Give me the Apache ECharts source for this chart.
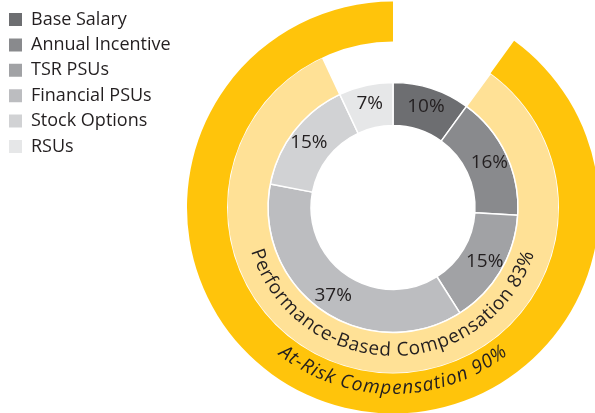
<!DOCTYPE html>
<html><head><meta charset="utf-8">
<script src="https://cdn.jsdelivr.net/npm/echarts@6/dist/echarts.min.js"></script>
<style>html,body{margin:0;padding:0;background:#fff}#c{width:595px;height:413px}</style>
</head><body><div id="c"></div>
<script>
// ---- data ----
const categories = ['Base Salary','Annual Incentive','TSR PSUs','Financial PSUs','Stock Options','RSUs'];
const shares = [10,16,15,37,15,7];
const performanceLabel = 'Performance-Based Compensation';
const performanceShare = 83;
const atRiskLabel = 'At-Risk Compensation';
const atRiskShare = 90;

// ---- style ----
const grays = ['#6d6e71','#898a8d','#a1a2a5','#bcbdc0','#d1d2d4','#e6e7e8'];
const gold = '#ffc40b';
const lightGold = '#ffe196';
const FONT = '"Open Sans", "Noto Sans", sans-serif';
const cx = 393, cy = 207.5;

const chart = echarts.init(document.getElementById('c'), null, {renderer:'canvas'});

const perfBefore = shares[0];
const perfAfter = 100 - perfBefore - performanceShare;
const riskBefore = 100 - atRiskShare;
const none = {color:'transparent', borderWidth:0};

function arcText(str, r, centerDeg, fontSize, color, spacing, style){
  const font = (style ? style + ' ' : '') + fontSize + 'px ' + FONT;
  const ctx = document.createElement('canvas').getContext('2d');
  ctx.font = font;
  const ws = [...str].map(ch => ctx.measureText(ch).width);
  const total = ws.reduce((a,b)=>a+b,0) + spacing*(ws.length-1);
  let start = centerDeg*Math.PI/180 + total/(2*r);
  let cum = 0;
  const els = [];
  [...str].forEach((ch,i)=>{
    const th = start - (cum + ws[i]/2)/r;
    cum += ws[i] + spacing;
    const phi = th - Math.PI/2;
    els.push({type:'text', x: cx + r*Math.cos(th), y: cy + r*Math.sin(th), rotation: -phi,
      silent:true, z:100, zlevel:0,
      style:{text:ch, font: font, fill:color, align:'center', verticalAlign:'middle',
             textAlign:'center', textVerticalAlign:'middle'}});
  });
  return els;
}

const graphics = [].concat(
  arcText(performanceLabel + ' ' + performanceShare + '%', 143, 90.5, 19, '#231f20', 0.3),
  arcText(atRiskLabel + ' ' + atRiskShare + '%', 181, 90, 19, '#231f20', 0.75, 'italic')
);

chart.setOption({
  animation:false,
  legend:{
    orient:'vertical', left:7, top:10.5, padding:0, itemWidth:15, itemHeight:15, itemGap:7.4,
    icon:'rect', data:categories,
    textStyle:{fontFamily:FONT, fontSize:18, color:'#231f20', padding:[0,0,0,3]}
  },
  series:[
    {
      type:'pie', name:'comp', center:[cx,cy], radius:[82,125], startAngle:90, clockwise:true,
      silent:true,
      itemStyle:{borderColor:'#fff', borderWidth:1.5},
      label:{position:'inside', formatter:'{c}%', fontFamily:FONT, fontSize:19, color:'#231f20', padding:[2,0,0,0]},
      labelLine:{show:false},
      data: categories.map((n,i)=>({name:n, value:shares[i], itemStyle:{color:grays[i]}}))
    },
    {
      type:'pie', name:'perf', center:[cx,cy], radius:[125,166], startAngle:90, silent:true,
      label:{show:false}, labelLine:{show:false},
      data:[
        {name:'_a', value:perfBefore, itemStyle:none},
        {name:performanceLabel, value:performanceShare, itemStyle:{color:lightGold, borderColor:'#fff', borderWidth:1.5}},
        {name:'_b', value:perfAfter, itemStyle:none}
      ]
    },
    {
      type:'pie', name:'risk', center:[cx,cy], radius:[166,206], startAngle:90, silent:true,
      label:{show:false}, labelLine:{show:false},
      data:[
        {name:'_c', value:riskBefore, itemStyle:none},
        {name:atRiskLabel, value:atRiskShare, itemStyle:{color:gold, borderWidth:0}}
      ]
    }
  ],
  graphic: {elements: graphics}
});
</script></body></html>
